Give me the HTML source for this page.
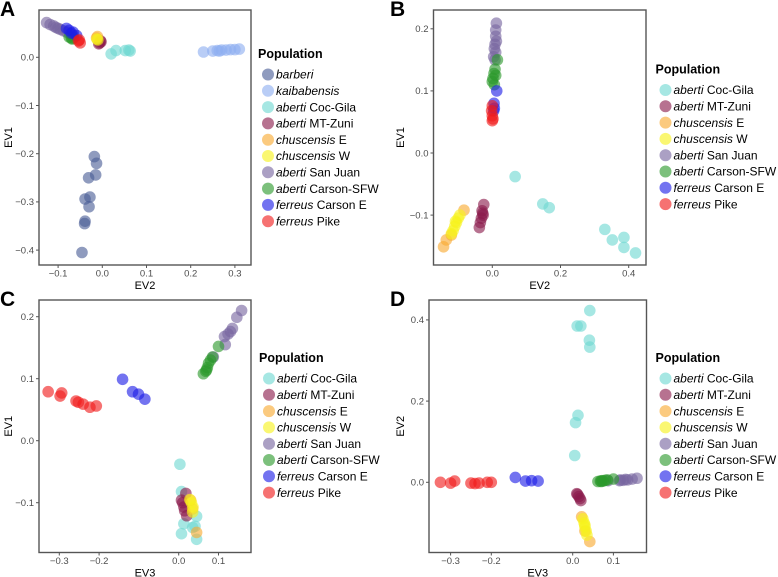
<!DOCTYPE html>
<html><head><meta charset="utf-8">
<style>
html,body{margin:0;padding:0;background:#fff;}
svg{display:block;font-family:"Liberation Sans",sans-serif;}
.tick{font-size:9.5px;fill:#4d4d4d;}
.atitle{font-size:11px;fill:#000;}
.ltitle{font-size:12.5px;font-weight:bold;fill:#000;}
.ltext{font-size:12px;fill:#000;}
.plabel{font-size:21px;font-weight:bold;fill:#000;}
</style></head>
<body>
<svg id="chart" width="778" height="577" viewBox="0 0 778 577"></svg>
<script>
// ---- Panel A data (x = EV2, y = EV1) ----
const A_barberi_x = [-0.018,-0.013,-0.031,-0.015,-0.039,-0.028,-0.030,-0.039,-0.040,-0.046];
const A_barberi_y = [-0.206,-0.220,-0.250,-0.244,-0.294,-0.290,-0.310,-0.340,-0.345,-0.405];
const A_kaibab_x = [0.229,0.250,0.260,0.265,0.270,0.280,0.290,0.300,0.310];
const A_kaibab_y = [0.011,0.013,0.014,0.013,0.015,0.015,0.016,0.016,0.017];
const A_cocgila_x = [0.020,0.031,0.060,0.052,0.063];
const A_cocgila_y = [0.007,0.014,0.015,0.014,0.013];
const A_mtzuni_x = [-0.006,-0.003,-0.008,-0.004];
const A_mtzuni_y = [0.030,0.032,0.028,0.034];
const A_chusE_x = [-0.011,-0.013];
const A_chusE_y = [0.043,0.040];
const A_chusW_x = [-0.012,-0.010];
const A_chusW_y = [0.038,0.036];
const A_sanjuan_x = [-0.126,-0.118,-0.110,-0.105,-0.100,-0.095,-0.088,-0.080,-0.072,-0.066];
const A_sanjuan_y = [0.072,0.068,0.065,0.062,0.060,0.058,0.055,0.052,0.048,0.045];
const A_carsonsfw_x = [-0.075,-0.070,-0.068,-0.065];
const A_carsonsfw_y = [0.042,0.040,0.038,0.040];
const A_carsonE_x = [-0.081,-0.075,-0.070,-0.066,-0.058];
const A_carsonE_y = [0.060,0.056,0.050,0.052,0.045];
const A_pike_x = [-0.050,-0.054,-0.052];
const A_pike_y = [0.030,0.034,0.036];

// ---- Panel B data (x = EV2, y = EV1) ----
const B_cocgila_x = [0.067,0.148,0.167,0.330,0.352,0.386,0.386,0.420];
const B_cocgila_y = [-0.038,-0.082,-0.088,-0.123,-0.140,-0.136,-0.152,-0.161];
const B_mtzuni_x = [-0.025,-0.030,-0.028,-0.032,-0.035,-0.038,-0.027];
const B_mtzuni_y = [-0.083,-0.093,-0.097,-0.105,-0.112,-0.120,-0.100];
const B_chusE_x = [-0.143,-0.083,-0.120,-0.135];
const B_chusE_y = [-0.151,-0.092,-0.132,-0.140];
const B_chusW_x = [-0.120,-0.115,-0.110,-0.105,-0.100,-0.095,-0.108];
const B_chusW_y = [-0.130,-0.125,-0.118,-0.112,-0.105,-0.100,-0.110];
const B_sanjuan_x = [0.012,0.010,0.012,0.008,0.006,0.010,0.004,0.008,0.010];
const B_sanjuan_y = [0.209,0.198,0.180,0.175,0.168,0.162,0.155,0.150,0.188];
const B_carsonsfw_x = [0.015,0.008,0.005,0.002,0.000,0.006,0.010];
const B_carsonsfw_y = [0.150,0.135,0.128,0.120,0.115,0.110,0.125];
const B_carsonE_x = [0.013,0.005,0.006,0.004];
const B_carsonE_y = [0.100,0.080,0.072,0.068];
const B_pike_x = [0.000,-0.002,0.000,0.002,0.000];
const B_pike_y = [0.076,0.068,0.060,0.055,0.052];

// ---- Panel C data (x = EV3, y = EV1) ----
const C_cocgila_x = [0.003,0.007,0.007,0.013,0.045,0.041,0.045,0.035];
const C_cocgila_y = [-0.038,-0.082,-0.150,-0.134,-0.122,-0.138,-0.159,-0.140];
const C_mtzuni_x = [0.018,0.007,0.010,0.013,0.015,0.020];
const C_mtzuni_y = [-0.085,-0.096,-0.100,-0.107,-0.113,-0.121];
const C_chusE_x = [0.030,0.045,0.035];
const C_chusE_y = [-0.096,-0.148,-0.110];
const C_chusW_x = [0.036,0.032,0.028,0.035];
const C_chusW_y = [-0.107,-0.100,-0.095,-0.115];
const C_sanjuan_x = [0.158,0.146,0.135,0.124,0.115,0.117,0.087,0.130];
const C_sanjuan_y = [0.210,0.199,0.181,0.172,0.168,0.155,0.135,0.176];
const C_carsonsfw_x = [0.062,0.068,0.072,0.075,0.080,0.085,0.100,0.070];
const C_carsonsfw_y = [0.108,0.112,0.118,0.125,0.130,0.135,0.152,0.114];
const C_carsonE_x = [-0.141,-0.116,-0.101,-0.085];
const C_carsonE_y = [0.099,0.079,0.075,0.067];
const C_pike_x = [-0.328,-0.298,-0.294,-0.258,-0.252,-0.240,-0.223,-0.207];
const C_pike_y = [0.079,0.072,0.077,0.064,0.062,0.059,0.054,0.056];

// ---- Panel D data (x = EV3, y = EV2) ----
const D_cocgila_x = [0.042,0.011,0.020,0.041,0.042,0.013,0.007,0.005];
const D_cocgila_y = [0.423,0.385,0.385,0.350,0.333,0.165,0.147,0.066];
const D_mtzuni_x = [0.012,0.015,0.018,0.020,0.010];
const D_mtzuni_y = [-0.030,-0.035,-0.040,-0.045,-0.028];
const D_chusE_x = [0.022,0.042,0.030];
const D_chusE_y = [-0.085,-0.146,-0.120];
const D_chusW_x = [0.025,0.028,0.030,0.033,0.035,0.030];
const D_chusW_y = [-0.090,-0.100,-0.110,-0.120,-0.130,-0.105];
const D_sanjuan_x = [0.158,0.146,0.135,0.124,0.115,0.117,0.087,0.130];
const D_sanjuan_y = [0.010,0.008,0.006,0.005,0.004,0.006,0.004,0.007];
const D_carsonsfw_x = [0.062,0.068,0.072,0.075,0.080,0.085,0.100,0.070];
const D_carsonsfw_y = [0.002,0.003,0.004,0.003,0.005,0.006,0.008,0.002];
const D_carsonE_x = [-0.141,-0.116,-0.101,-0.085];
const D_carsonE_y = [0.012,0.003,0.004,0.003];
const D_pike_x = [-0.325,-0.300,-0.290,-0.250,-0.240,-0.230,-0.210,-0.200];
const D_pike_y = [0.000,-0.002,0.003,-0.002,-0.003,-0.002,0.000,0.000];

// tick labels
const A_xticks = [-0.1,0.0,0.1,0.2,0.3];
const A_yticks = [0.0,-0.1,-0.2,-0.3,-0.4];
const B_xticks = [0.0,0.2,0.4];
const B_yticks = [0.2,0.1,0.0,-0.1];
const C_xticks = [-0.3,-0.2,0.0,0.1];
const C_yticks = [0.2,0.1,0.0,-0.1];
const D_xticks = [-0.3,-0.2,0.0,0.1];
const D_yticks = [0.4,0.2,0.0];

const NS = "http://www.w3.org/2000/svg";
const svg = document.getElementById('chart');
const COL = {barberi:"#4a5e96",kaibab:"#8eaef0",cocgila:"#6fd9d2",mtzuni:"#8a1c4c",chusE:"#f9aa30",chusW:"#f7f21c",sanjuan:"#7866a0",carsonsfw:"#2b9a2b",carsonE:"#1d1de6",pike:"#f01b1b"};
const LABEL = {barberi:["barberi",""],kaibab:["kaibabensis",""],cocgila:["aberti"," Coc-Gila"],mtzuni:["aberti"," MT-Zuni"],chusE:["chuscensis"," E"],chusW:["chuscensis"," W"],sanjuan:["aberti"," San Juan"],carsonsfw:["aberti"," Carson-SFW"],carsonE:["ferreus"," Carson E"],pike:["ferreus"," Pike"]};

function el(tag, attrs, parent){const e=document.createElementNS(NS,tag);for(const k in attrs)e.setAttribute(k,attrs[k]);(parent||svg).appendChild(e);return e;}
function fmt(v){const s=Math.abs(v).toFixed(1);return (v<0?"\u2212":"")+s;}

function panel(cfg){
  const g=el('g',{});
  
  
  const sx=v=>cfg.x0px+(v-cfg.x0v)*cfg.xs;
  const sy=v=>cfg.y0px-(v-cfg.y0v)*cfg.ys;
  const lbl=el('text',{x:cfg.lx,y:cfg.ly,class:'plabel'},g);lbl.textContent=cfg.id;
  
  
  const pg=el('g',{},g);
  
  
  cfg.series.forEach(s=>{
    for(let i=0;i<s.x.length;i++){
      const c=el('circle',{cx:sx(s.x[i]),cy:sy(s.y[i]),r:5.8,fill:COL[s.k],'fill-opacity':0.62},pg);
      
      
    }
  });
  const box=el('rect',{x:cfg.bx,y:cfg.by,width:cfg.bw,height:cfg.bh,fill:'none',stroke:'#555',"stroke-width":1.4},g);
  
  
  const by2=cfg.by+cfg.bh;
  cfg.xt.forEach(v=>{
    const X=sx(v);
    el('line',{x1:X,x2:X,y1:by2,y2:by2+3,stroke:'#555','stroke-width':1},g);
    const t=el('text',{x:X,y:by2+11.5,class:'tick','text-anchor':'middle'},g);t.textContent=fmt(v);
    
    
  });
  cfg.yt.forEach(v=>{
    const Y=sy(v);
    el('line',{x1:cfg.bx-3,x2:cfg.bx,y1:Y,y2:Y,stroke:'#555','stroke-width':1},g);
    const t=el('text',{x:cfg.bx-5,y:Y+3.3,class:'tick','text-anchor':'end'},g);t.textContent=fmt(v);
    
    
  });
  const xt=el('text',{x:cfg.bx+cfg.bw/2,y:by2+24,class:'atitle','text-anchor':'middle'},g);xt.textContent=cfg.xl;
  
  
  const yc=cfg.by+cfg.bh/2;
  const yt=el('text',{x:0,y:0,class:'atitle','text-anchor':'middle',transform:`translate(${cfg.ytx},${yc}) rotate(-90)`},g);yt.textContent=cfg.yl;
  
  
  const lg=el('g',{},g);
  
  
  const tt=el('text',{x:cfg.legx,y:cfg.legy,class:'ltitle'},lg);tt.textContent='Population';
  
  
  cfg.series.forEach((s,i)=>{
    const cy=cfg.legy+16.5+i*16.3;
    const e=el('g',{},lg);
    
    
    el('circle',{cx:cfg.legx+10,cy:cy,r:6,fill:COL[s.k],'fill-opacity':0.62},e);
    const t=el('text',{x:cfg.legx+18,y:cy+4.2,class:'ltext'},e);
    const it=el('tspan',{'font-style':'italic'},t);it.textContent=LABEL[s.k][0];
    const rt=el('tspan',{},t);rt.textContent=LABEL[s.k][1];
  });
}

panel({id:'A',lx:0,ly:16,bx:39,by:10,bw:212,bh:255,x0px:102.3,x0v:0,xs:442,y0px:57.3,y0v:0,ys:482,
  xt:A_xticks,yt:A_yticks,xl:'EV2',yl:'EV1',ytx:12,legx:258,legy:58,
  series:[{k:'barberi',x:A_barberi_x,y:A_barberi_y},{k:'kaibab',x:A_kaibab_x,y:A_kaibab_y},{k:'cocgila',x:A_cocgila_x,y:A_cocgila_y},{k:'mtzuni',x:A_mtzuni_x,y:A_mtzuni_y},{k:'chusE',x:A_chusE_x,y:A_chusE_y},{k:'chusW',x:A_chusW_x,y:A_chusW_y},{k:'sanjuan',x:A_sanjuan_x,y:A_sanjuan_y},{k:'carsonsfw',x:A_carsonsfw_x,y:A_carsonsfw_y},{k:'carsonE',x:A_carsonE_x,y:A_carsonE_y},{k:'pike',x:A_pike_x,y:A_pike_y}]});
panel({id:'B',lx:390,ly:16,bx:433.5,by:10,bw:212.5,bh:255,x0px:492.3,x0v:0,xs:341,y0px:153,y0v:0,ys:621,
  xt:B_xticks,yt:B_yticks,xl:'EV2',yl:'EV1',ytx:404,legx:655.5,legy:73.5,
  series:[{k:'cocgila',x:B_cocgila_x,y:B_cocgila_y},{k:'mtzuni',x:B_mtzuni_x,y:B_mtzuni_y},{k:'chusE',x:B_chusE_x,y:B_chusE_y},{k:'chusW',x:B_chusW_x,y:B_chusW_y},{k:'sanjuan',x:B_sanjuan_x,y:B_sanjuan_y},{k:'carsonsfw',x:B_carsonsfw_x,y:B_carsonsfw_y},{k:'carsonE',x:B_carsonE_x,y:B_carsonE_y},{k:'pike',x:B_pike_x,y:B_pike_y}]});
panel({id:'C',lx:0,ly:306,bx:39,by:300,bw:212,bh:252.5,x0px:178.7,x0v:0,xs:398,y0px:440.7,y0v:0,ys:620,
  xt:C_xticks,yt:C_yticks,xl:'EV3',yl:'EV1',ytx:12,legx:259,legy:362,
  series:[{k:'cocgila',x:C_cocgila_x,y:C_cocgila_y},{k:'mtzuni',x:C_mtzuni_x,y:C_mtzuni_y},{k:'chusE',x:C_chusE_x,y:C_chusE_y},{k:'chusW',x:C_chusW_x,y:C_chusW_y},{k:'sanjuan',x:C_sanjuan_x,y:C_sanjuan_y},{k:'carsonsfw',x:C_carsonsfw_x,y:C_carsonsfw_y},{k:'carsonE',x:C_carsonE_x,y:C_carsonE_y},{k:'pike',x:C_pike_x,y:C_pike_y}]});
panel({id:'D',lx:390,ly:306,bx:429,by:300,bw:217.5,bh:252.5,x0px:572.7,x0v:0,xs:407,y0px:482.3,y0v:0,ys:406,
  xt:D_xticks,yt:D_yticks,xl:'EV3',yl:'EV2',ytx:404,legx:655.5,legy:362,
  series:[{k:'cocgila',x:D_cocgila_x,y:D_cocgila_y},{k:'mtzuni',x:D_mtzuni_x,y:D_mtzuni_y},{k:'chusE',x:D_chusE_x,y:D_chusE_y},{k:'chusW',x:D_chusW_x,y:D_chusW_y},{k:'sanjuan',x:D_sanjuan_x,y:D_sanjuan_y},{k:'carsonsfw',x:D_carsonsfw_x,y:D_carsonsfw_y},{k:'carsonE',x:D_carsonE_x,y:D_carsonE_y},{k:'pike',x:D_pike_x,y:D_pike_y}]});
</script>
</body></html>
